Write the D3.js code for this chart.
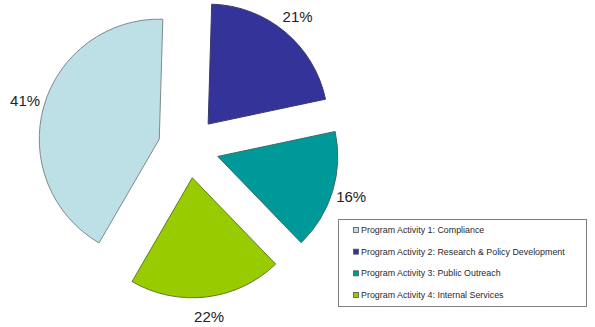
<!DOCTYPE html>
<html>
<head>
<meta charset="utf-8">
<script src="https://cdn.jsdelivr.net/npm/d3@7"></script>
<style>
  body { margin: 0; background: #fff; }
  svg { display: block; }
  .pct { font-family: "Liberation Sans", Arial, sans-serif; font-size: 15px; fill: #222; }
  .legend text { font-family: "Liberation Sans", Arial, sans-serif; font-size: 8.9px; fill: #2a2a2a; }
</style>
</head>
<body>
<div id="chart"></div>
<script>
// chart data, in drawing order (clockwise from the top)
const categories = [
  "Program Activity 2: Research & Policy Development",
  "Program Activity 3: Public Outreach",
  "Program Activity 4: Internal Services",
  "Program Activity 1: Compliance"
];
// slice sizes as drawn in the picture (share of the circle)
const values = [21.2, 16.1, 20.6, 42.1];
// percentages printed next to the slices
const pctLabels = ["21%", "16%", "22%", "41%"];
const colors = ["#333399", "#009999", "#99cc00", "#bce0e5"];
const strokes = ["#3a3a6a", "#3f6a6a", "#5f7a2a", "#7f8a8c"];

// legend order as in the original
const legendOrder = [
  "Program Activity 1: Compliance",
  "Program Activity 2: Research & Policy Development",
  "Program Activity 3: Public Outreach",
  "Program Activity 4: Internal Services"
];

const width = 595, height = 327;
const cx = 188.6, cy = 147.5, radius = 120, explode = 30.5, labelR = 170;
const startAngle = 1.7 * Math.PI / 180;

const svg = d3.select("#chart").append("svg")
  .attr("width", width).attr("height", height);

const pie = d3.pie().sort(null)
  .startAngle(startAngle).endAngle(startAngle + 2 * Math.PI)
  .value(d => d);
const arcs = pie(values);
const arc = d3.arc().innerRadius(0).outerRadius(radius);
const mid = d => (d.startAngle + d.endAngle) / 2;

const g = svg.append("g").attr("transform", `translate(${cx},${cy})`);

g.selectAll("path.slice").data(arcs).enter().append("path")
  .attr("class", "slice")
  .attr("transform", d => `translate(${explode * Math.sin(mid(d))},${-explode * Math.cos(mid(d))})`)
  .attr("d", arc)
  .attr("fill", (d, i) => colors[i])
  .attr("stroke", (d, i) => strokes[i])
  .attr("stroke-width", 1);

g.selectAll("text.pct").data(arcs).enter().append("text")
  .attr("class", "pct")
  .attr("x", d => labelR * Math.sin(mid(d)))
  .attr("y", d => -labelR * Math.cos(mid(d)))
  .attr("dy", "0.35em")
  .attr("text-anchor", "middle")
  .text((d, i) => pctLabels[i]);

// legend
const lx = 338, ly = 219, lw = 248, lh = 87;
const legend = svg.append("g").attr("class", "legend");
legend.append("rect")
  .attr("x", lx + 0.5).attr("y", ly + 0.5)
  .attr("width", lw).attr("height", lh)
  .attr("fill", "#fff").attr("stroke", "#7f7f7f").attr("stroke-width", 1);

const rowY = d3.scalePoint().domain(legendOrder).range([ly + 11, ly + 76]);

const rows = legend.selectAll("g.row").data(legendOrder).enter().append("g")
  .attr("class", "row")
  .attr("transform", d => `translate(${lx + 15},${rowY(d)})`);

rows.append("rect")
  .attr("x", 0.5).attr("y", -2.5).attr("width", 5).attr("height", 5)
  .attr("fill", d => colors[categories.indexOf(d)])
  .attr("stroke", "#555").attr("stroke-width", 0.8);

rows.append("text")
  .attr("x", 8).attr("dy", "0.35em")
  .text(d => d);
</script>
</body>
</html>
